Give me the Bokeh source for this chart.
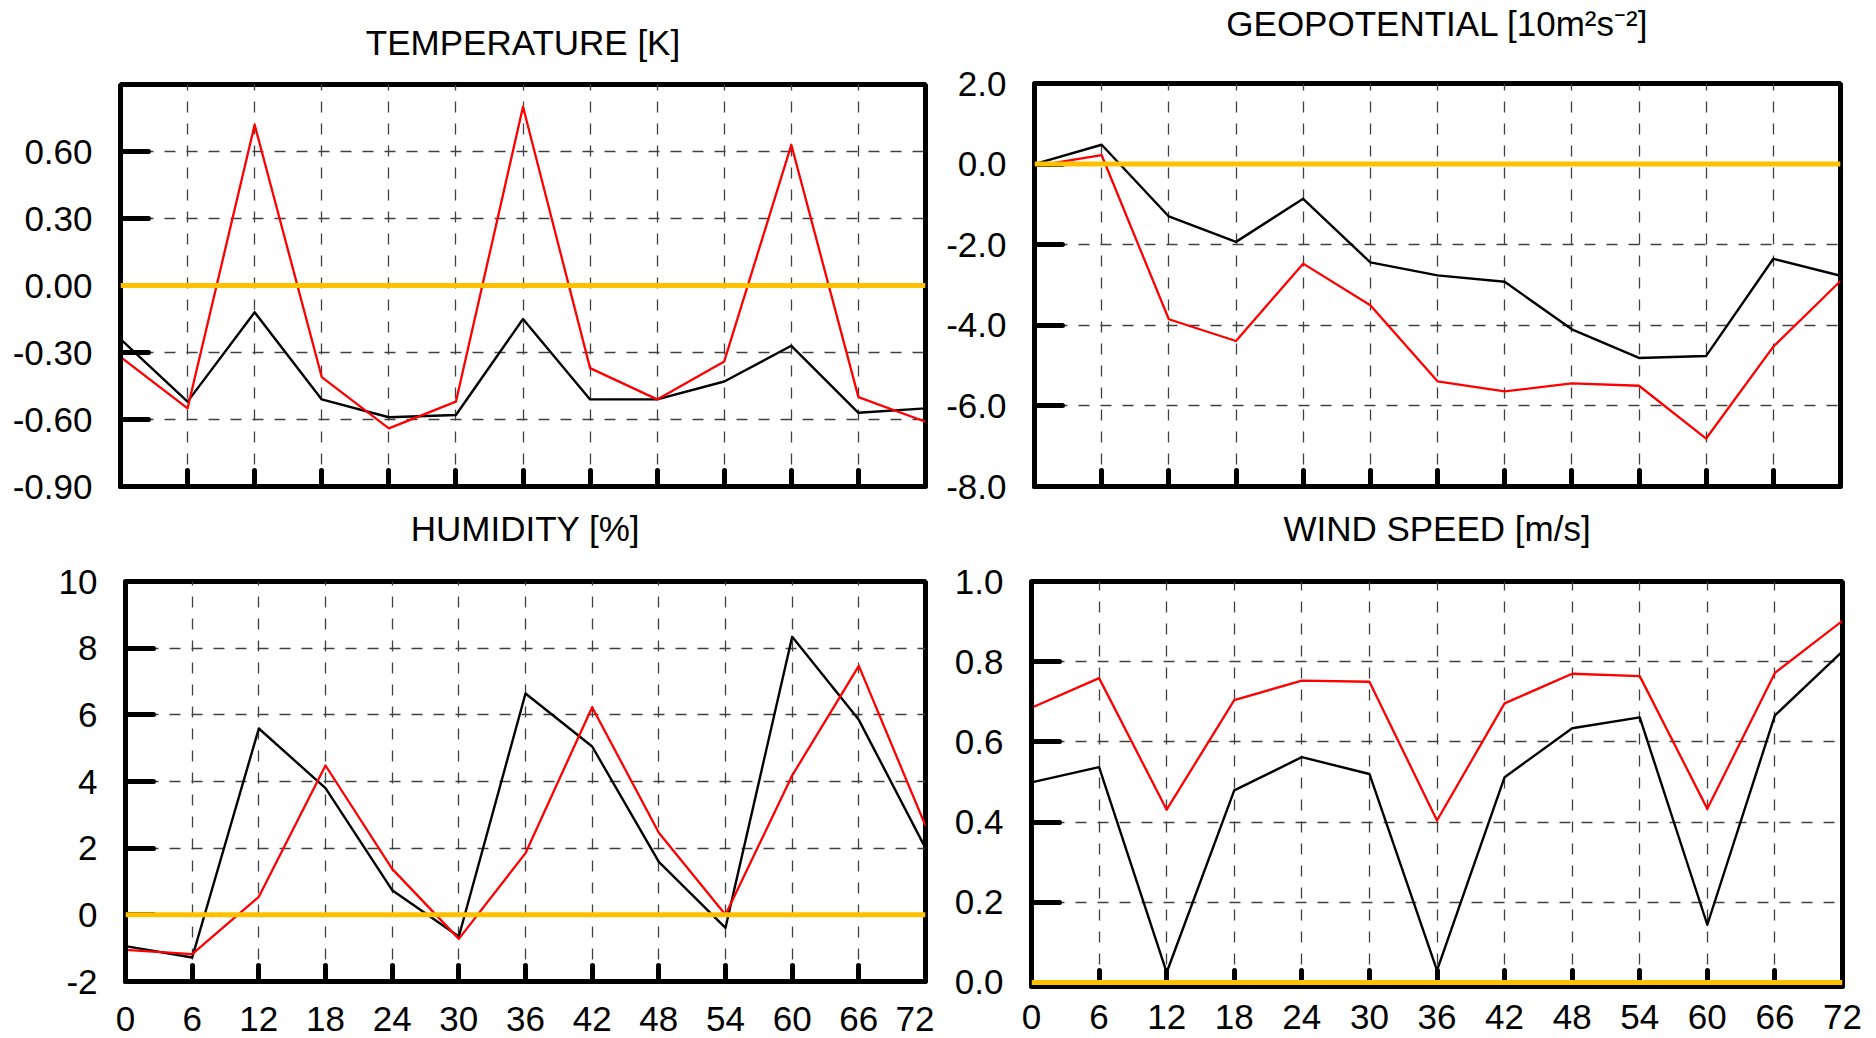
from bokeh.plotting import figure
from bokeh.models import (Range1d, FixedTicker, PrintfTickFormatter, Span,
                          CustomLabelingPolicy)
from bokeh.layouts import column, row
from bokeh.embed import file_html
from bokeh.resources import INLINE

# ---------------- data ----------------
hours = [0, 6, 12, 18, 24, 30, 36, 42, 48, 54, 60, 66, 72]

temp_black = [-0.24, -0.52, -0.12, -0.51, -0.59, -0.58, -0.15, -0.51, -0.51, -0.43, -0.27, -0.57, -0.55]
temp_red = [-0.32, -0.55, 0.72, -0.41, -0.64, -0.52, 0.80, -0.37, -0.51, -0.34, 0.63, -0.50, -0.61]

geo_black = [0.0, 0.48, -1.30, -1.93, -0.86, -2.44, -2.76, -2.92, -4.10, -4.81, -4.76, -2.35, -2.77]
geo_red = [-0.05, 0.22, -3.85, -4.39, -2.47, -3.50, -5.39, -5.64, -5.44, -5.50, -6.81, -4.53, -2.90]

hum_black = [-0.94, -1.28, 5.59, 3.80, 0.74, -0.65, 6.64, 5.05, 1.59, -0.39, 8.34, 5.85, 2.00]
hum_red = [-1.05, -1.18, 0.54, 4.48, 1.38, -0.72, 1.85, 6.23, 2.46, 0.00, 4.18, 7.47, 2.67]

wind_black = [0.499, 0.537, 0.025, 0.479, 0.562, 0.520, 0.030, 0.512, 0.634, 0.661, 0.144, 0.666, 0.826]
wind_red = [0.685, 0.759, 0.431, 0.704, 0.753, 0.750, 0.404, 0.696, 0.770, 0.764, 0.433, 0.772, 0.902]

titles = ["TEMPERATURE [K]", "GEOPOTENTIAL [10m\u00b2s\u207b\u00b2]", "HUMIDITY [%]", "WIND SPEED [m/s]"]

temp_ticks = [-0.9, -0.6, -0.3, 0.0, 0.3, 0.6]
geo_ticks = [-8, -6, -4, -2, 0, 2]
hum_ticks = [-2, 0, 2, 4, 6, 8, 10]
wind_ticks = [0.0, 0.2, 0.4, 0.6, 0.8, 1.0]

FONT = "Liberation Sans"
ORANGE = "#FFC000"


def panel(title, black, red, yr, yticks, yfmt, show_x, w, h, borders, title_pad, x_standoff):
    left, right, top, bottom = borders
    p = figure(width=w, height=h, min_border_left=left, min_border_right=right,
               min_border_top=top, min_border_bottom=bottom,
               x_range=Range1d(hours[0], hours[-1]), y_range=Range1d(*yr),
               output_backend="svg", toolbar_location=None, title=title)
    p.background_fill_color = "white"
    p.border_fill_color = "white"
    p.outline_line_color = "black"
    p.outline_line_width = 5

    p.title.align = "center"
    p.title.text_font = FONT
    p.title.text_font_size = "35px"
    p.title.text_font_style = "normal"
    p.title.text_color = "black"
    p.title.standoff = 0
    p.title.padding = dict(top=0, right=0, bottom=title_pad, left=0)

    for ax in (p.xaxis[0], p.yaxis[0]):
        ax.axis_line_width = 5
        ax.axis_line_color = "black"
        ax.major_tick_out = 0
        ax.major_tick_line_width = 5
        ax.major_tick_line_color = "black"
        ax.major_tick_line_cap = "round"
        ax.minor_tick_line_color = None
        ax.major_label_text_font = FONT
        ax.major_label_text_font_size = "35px"
        ax.major_label_text_color = "black"

    p.xaxis.ticker = FixedTicker(ticks=hours)
    p.xaxis.major_tick_in = 16
    if show_x:
        p.xaxis.major_label_standoff = x_standoff
    else:
        p.xaxis.major_label_policy = CustomLabelingPolicy(code="return []")
        p.xaxis.major_label_text_font_size = "0px"
        p.xaxis.major_label_standoff = 0

    p.yaxis.ticker = FixedTicker(ticks=yticks)
    p.yaxis.formatter = PrintfTickFormatter(format=yfmt)
    p.yaxis.major_tick_in = 28
    p.yaxis.major_label_standoff = 28

    p.grid.grid_line_color = "#404040"
    p.grid.grid_line_width = 1.3
    p.grid.grid_line_dash = "11 11"

    p.line(hours, black, line_color="black", line_width=2.4, line_join="round")
    p.line(hours, red, line_color="#ff0000", line_width=2.3, line_join="round")
    p.add_layout(Span(location=0, dimension="width", line_color=ORANGE, line_width=5,
                      level="overlay"))
    return p


# top row: 506 px tall; bottom row: 532 px tall
p1 = panel(titles[0], temp_black, temp_red, (-0.9, 0.9), temp_ticks, "%.2f", False,
           934, 506, (120, 9, 84, 20), 23, 0)
p2 = panel(titles[1], geo_black, geo_red, (-8, 2), geo_ticks, "%.1f", False,
           942, 506, (100, 36, 83, 20), 41, 0)
p3 = panel(titles[2], hum_black, hum_red, (-2, 10), hum_ticks, "%d", True,
           934, 532, (125, 9, 74, 57), 34, 25)
p4 = panel(titles[3], wind_black, wind_red, (-0.01, 1), wind_ticks, "%.1f", True,
           942, 532, (97, 34, 75, 52), 34, 18)

# each figure sits in its own container so that frames keep their own borders
layout = column(row(column(p1), column(p2)), row(column(p3), column(p4)))
open("out.html", "w").write(file_html(layout, INLINE))
